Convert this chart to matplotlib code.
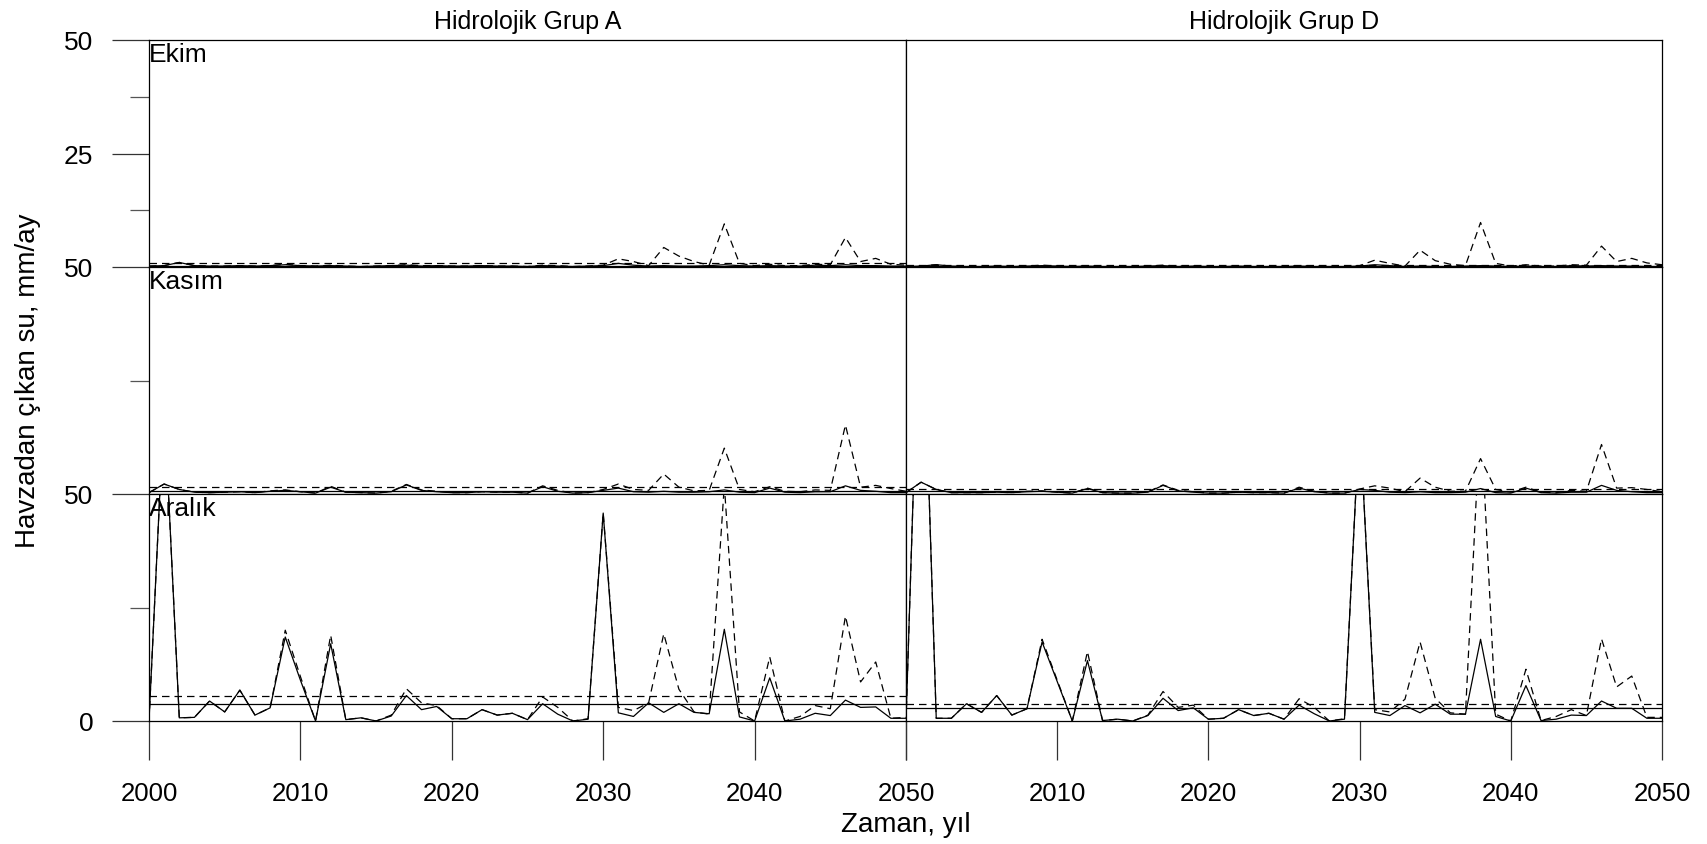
import numpy as np
import matplotlib.pyplot as plt
from matplotlib.ticker import FixedLocator, NullFormatter

plt.rcParams['font.family'] = ['Liberation Sans', 'DejaVu Sans']

years = np.arange(2000, 2051)

# --- Ekim (October) ---
ekim_a_solid = [0.2, 0.3, 1.0, 0.3, 0.2, 0.2, 0.3, 0.2, 0.3, 0.5,
                0.3, 0.2, 0.3, 0.2, 0.1, 0.2, 0.3, 0.4, 0.2, 0.3,
                0.2, 0.2, 0.3, 0.2, 0.2, 0.1, 0.3, 0.2, 0.1, 0.2,
                0.3, 0.8, 0.4, 0.2, 0.3, 0.2, 0.2, 0.3, 0.5, 0.3,
                0.2, 0.3, 0.2, 0.2, 0.4, 0.3, 0.5, 0.3, 0.3, 0.2, 0.2]
ekim_a_dash = [0.2, 0.3, 1.0, 0.3, 0.2, 0.2, 0.3, 0.2, 0.3, 0.6,
               0.3, 0.2, 0.4, 0.2, 0.1, 0.2, 0.3, 0.5, 0.3, 0.3,
               0.2, 0.2, 0.3, 0.2, 0.2, 0.1, 0.4, 0.3, 0.1, 0.2,
               0.4, 1.8, 1.2, 0.3, 4.3, 2.4, 1.2, 0.4, 9.5, 0.8,
               0.3, 0.6, 0.3, 0.3, 0.6, 0.5, 6.5, 1.2, 1.9, 0.6, 0.4]
ekim_d_solid = [0.1, 0.2, 0.5, 0.2, 0.1, 0.1, 0.2, 0.1, 0.2, 0.3,
                0.2, 0.1, 0.2, 0.1, 0.1, 0.1, 0.2, 0.3, 0.1, 0.2,
                0.1, 0.1, 0.2, 0.1, 0.1, 0.1, 0.2, 0.1, 0.1, 0.1,
                0.2, 0.5, 0.3, 0.1, 0.2, 0.1, 0.1, 0.2, 0.3, 0.2,
                0.1, 0.2, 0.1, 0.1, 0.3, 0.2, 0.3, 0.2, 0.2, 0.1, 0.1]
ekim_d_dash = [0.1, 0.2, 0.5, 0.2, 0.1, 0.1, 0.2, 0.1, 0.2, 0.4,
               0.2, 0.1, 0.3, 0.1, 0.1, 0.1, 0.2, 0.4, 0.2, 0.2,
               0.1, 0.1, 0.2, 0.1, 0.1, 0.1, 0.3, 0.2, 0.1, 0.1,
               0.3, 1.5, 0.8, 0.2, 3.7, 1.4, 0.6, 0.3, 9.8, 0.8,
               0.2, 0.5, 0.2, 0.2, 0.5, 0.4, 4.6, 1.2, 1.9, 0.9, 0.5]

# --- Kasım (November) ---
kasim_a_solid = [0.3, 2.2, 1.0, 0.4, 0.3, 0.4, 0.5, 0.3, 0.6, 0.8,
                 0.5, 0.2, 1.5, 0.4, 0.3, 0.2, 0.5, 2.0, 0.8, 0.5,
                 0.3, 0.3, 0.5, 0.4, 0.4, 0.2, 1.6, 0.6, 0.2, 0.3,
                 0.8, 1.3, 0.5, 0.4, 0.6, 0.4, 0.4, 0.5, 0.9, 0.4,
                 0.3, 1.3, 0.4, 0.3, 0.5, 0.5, 1.8, 0.8, 0.6, 0.3, 0.3]
kasim_a_dash = [0.3, 2.2, 1.0, 0.4, 0.3, 0.4, 0.5, 0.3, 0.7, 0.9,
                0.5, 0.2, 1.7, 0.4, 0.3, 0.2, 0.6, 2.1, 0.9, 0.6,
                0.3, 0.3, 0.5, 0.4, 0.4, 0.2, 1.8, 0.8, 0.2, 0.3,
                1.0, 2.2, 1.0, 0.8, 4.4, 1.5, 0.7, 0.8, 10.1, 1.0,
                0.5, 1.6, 0.6, 0.5, 0.9, 0.8, 15.2, 1.5, 1.9, 1.2, 0.6]
kasim_d_solid = [0.3, 2.6, 1.0, 0.3, 0.3, 0.3, 0.4, 0.3, 0.5, 0.6,
                 0.4, 0.2, 1.2, 0.3, 0.2, 0.2, 0.4, 1.9, 0.7, 0.4,
                 0.2, 0.2, 0.4, 0.3, 0.3, 0.2, 1.3, 0.5, 0.2, 0.2,
                 1.0, 0.8, 0.4, 0.3, 0.5, 0.3, 0.3, 0.4, 1.2, 0.3,
                 0.2, 1.3, 0.3, 0.2, 0.4, 0.4, 1.9, 0.8, 0.5, 0.3, 0.3]
kasim_d_dash = [0.3, 2.6, 1.0, 0.3, 0.3, 0.3, 0.4, 0.3, 0.6, 0.7,
                0.4, 0.2, 1.3, 0.3, 0.2, 0.2, 0.5, 2.0, 0.8, 0.5,
                0.2, 0.2, 0.4, 0.3, 0.3, 0.2, 1.5, 0.6, 0.2, 0.2,
                1.1, 1.8, 1.3, 0.5, 3.5, 1.5, 0.6, 0.6, 7.8, 1.0,
                0.4, 1.5, 0.4, 0.3, 0.8, 0.6, 10.9, 1.3, 1.4, 1.0, 0.5]

# --- Aralık (December) ---
aralik_a_solid = [0.0, 70.0, 0.7, 0.8, 4.4, 2.0, 6.8, 1.3, 2.9, 18.5,
                  9.0, 0.0, 17.0, 0.3, 0.7, 0.0, 1.1, 5.6, 2.5, 3.2,
                  0.5, 0.5, 2.5, 1.3, 1.7, 0.3, 3.8, 1.5, 0.0, 0.4,
                  45.8, 1.8, 1.0, 4.0, 1.9, 3.8, 1.9, 1.6, 20.2, 0.9,
                  0.0, 9.5, 0.0, 0.4, 1.7, 1.2, 4.6, 3.0, 3.1, 0.6, 0.6]
aralik_a_dash = [0.0, 70.0, 0.7, 0.8, 4.4, 2.0, 6.8, 1.3, 2.9, 20.0,
                 9.8, 0.0, 18.9, 0.3, 0.7, 0.0, 1.3, 7.1, 4.0, 3.4,
                 0.5, 0.5, 2.5, 1.3, 1.7, 0.3, 5.3, 3.0, 0.0, 0.5,
                 45.8, 3.0, 2.3, 4.0, 19.2, 7.0, 2.0, 1.5, 52.0, 2.0,
                 0.0, 14.1, 0.0, 1.0, 3.4, 2.7, 23.1, 8.6, 13.0, 0.6, 0.8]
aralik_d_solid = [0.0, 105.0, 0.6, 0.6, 3.8, 1.9, 5.6, 1.3, 2.7, 17.4,
                  8.7, 0.0, 13.3, 0.1, 0.4, 0.0, 1.2, 5.0, 2.3, 2.9,
                  0.4, 0.6, 2.5, 1.2, 1.7, 0.4, 3.5, 1.6, 0.0, 0.4,
                  67.0, 1.9, 1.2, 3.4, 1.8, 3.7, 1.5, 1.5, 18.0, 1.0,
                  0.0, 7.8, 0.1, 0.4, 1.3, 1.2, 4.4, 2.8, 2.8, 0.6, 0.6]
aralik_d_dash = [0.0, 105.0, 0.6, 0.6, 3.8, 1.9, 5.6, 1.3, 2.7, 18.0,
                 9.0, 0.0, 15.3, 0.1, 0.4, 0.0, 1.3, 6.5, 3.0, 3.5,
                 0.4, 0.6, 2.5, 1.2, 1.7, 0.4, 4.9, 3.0, 0.0, 0.5,
                 67.0, 2.5, 2.0, 4.8, 17.4, 5.0, 1.8, 1.5, 68.0, 1.5,
                 0.0, 11.4, 0.1, 1.0, 2.5, 1.2, 18.1, 7.5, 9.9, 0.8, 0.8]

# mean reference lines (solid, dashed) per panel
ekim_a_mean = [0.3, 0.8]
ekim_d_mean = [0.2, 0.5]
kasim_a_mean = [0.7, 1.5]
kasim_d_mean = [0.6, 1.2]
aralik_a_mean = [3.8, 5.4]
aralik_d_mean = [2.9, 3.8]

months = ['Ekim', 'Kasım', 'Aralık']
groups = ['Hidrolojik Grup A', 'Hidrolojik Grup D']
panels = [
    [(ekim_a_solid, ekim_a_dash, ekim_a_mean), (ekim_d_solid, ekim_d_dash, ekim_d_mean)],
    [(kasim_a_solid, kasim_a_dash, kasim_a_mean), (kasim_d_solid, kasim_d_dash, kasim_d_mean)],
    [(aralik_a_solid, aralik_a_dash, aralik_a_mean), (aralik_d_solid, aralik_d_dash, aralik_d_mean)],
]

W, H = 1708, 845
fig = plt.figure(figsize=(W / 100, H / 100), dpi=100)

col_x = [149, 906, 1662]
row_top, row_bot = 41, 722
row_h = (row_bot - row_top) / 3

for r in range(3):
    for c in range(2):
        x0 = col_x[c] / W
        w = (col_x[c + 1] - col_x[c]) / W
        y0 = 1 - (row_top + (r + 1) * row_h) / H
        ax = fig.add_axes([x0, y0, w, row_h / H])
        solid, dash, mean = panels[r][c]
        ax.plot(years, solid, color='black', lw=0.9)
        ax.plot(years, dash, color='black', lw=0.9, dashes=(6, 4))
        ax.axhline(mean[0], color='black', lw=0.9)
        ax.axhline(mean[1], color='black', lw=0.9, dashes=(6, 4))
        ax.set_xlim(2000, 2050)
        ax.set_ylim(0, 50)
        for s in ax.spines.values():
            s.set_linewidth(0.9)
            s.set_color('black')

        # y ticks only on left column
        if c == 0:
            if r == 0:
                ax.yaxis.set_major_locator(FixedLocator([25, 50]))
                ax.yaxis.set_minor_locator(FixedLocator([12.5, 37.5]))
            elif r == 1:
                ax.yaxis.set_major_locator(FixedLocator([50]))
                ax.yaxis.set_minor_locator(FixedLocator([25]))
            else:
                ax.yaxis.set_major_locator(FixedLocator([0, 50]))
                ax.yaxis.set_minor_locator(FixedLocator([25]))
            ax.yaxis.set_minor_formatter(NullFormatter())
            ax.tick_params(axis='y', which='major', direction='out', length=27,
                           width=0.9, color='#333333', pad=13, labelsize=19)
            ax.tick_params(axis='y', which='minor', direction='out', length=13.5,
                           width=0.9, color='#555555')
            ax.text(0.0, 0.99, months[r], transform=ax.transAxes, ha='left',
                    va='top', fontsize=19)
        else:
            ax.set_yticks([])

        if r == 2:
            ax.set_xticks([2000, 2010, 2020, 2030, 2040, 2050])
            if c == 0:
                ax.set_xticklabels(['2000', '2010', '2020', '2030', '2040', '2050'])
            else:
                ax.set_xticklabels(['', '2010', '2020', '2030', '2040', '2050'])
            ax.tick_params(axis='x', direction='out', length=28, width=0.9,
                           color='#333333', pad=15, labelsize=18.5)
        else:
            ax.set_xticks([])

        if r == 0:
            ax.set_title(groups[c], fontsize=18, pad=9)

fig.text(906 / W, 1 - 825 / H, 'Zaman, yıl', ha='center', va='center', fontsize=20)
fig.text(28 / W, 1 - 381 / H, 'Havzadan çıkan su, mm/ay', ha='center', va='center',
         rotation=90, fontsize=20)

fig.savefig('out.png', dpi=100)
